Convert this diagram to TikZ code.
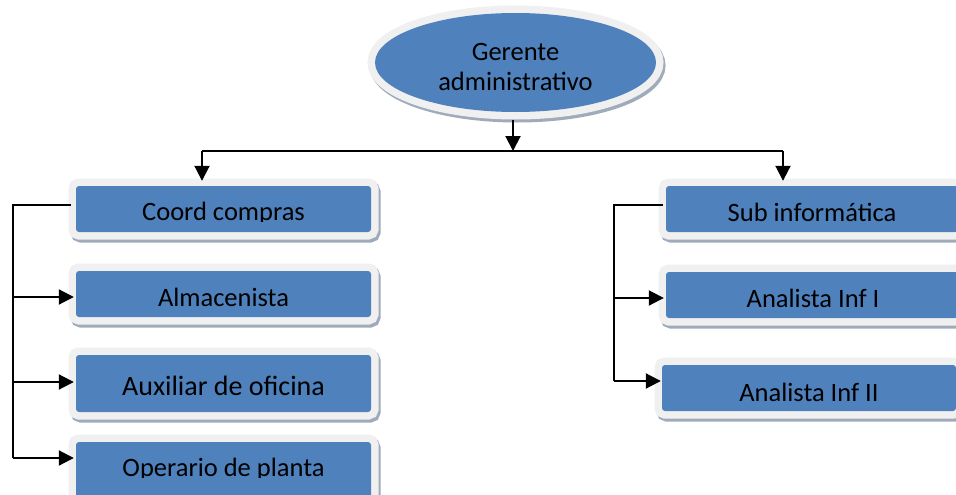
\documentclass[tikz,border=0pt]{standalone}
\usepackage{fontspec}
\setmainfont{Carlito}
\usetikzlibrary{arrows.meta,shapes.geometric}
\definecolor{boxblue}{HTML}{4F81BD}
\definecolor{framec}{HTML}{F0F0F0}
\definecolor{shadc}{HTML}{9FABBA}
\begin{document}
\begin{tikzpicture}[x=1pt,y=-1pt,
  frm/.style={preaction={draw=shadc,line width=15pt,transform canvas={shift={(2pt,-3pt)}}},
              preaction={draw=framec,line width=15pt}},
  bx/.style={frm,fill=boxblue,rounded corners=3pt,inner sep=0pt,draw=none},
  lbl/.style={font=\fontsize{26.5}{30}\selectfont,anchor=base,inner sep=0pt,text=black},
  lin/.style={line width=1.8pt},
  arr/.style={line width=2pt,-{Triangle[width=15pt,length=15pt]}},
]
\useasboundingbox (0,0) rectangle (956,495);
\clip (0,0) rectangle (956,495);
\fill[white] (0,0) rectangle (956,495);

% top ellipse
\node[ellipse,frm,fill=boxblue,draw=none,inner sep=0pt,minimum width=281,minimum height=99] (ger) at (515.5,62.5) {};
\node[lbl] (tger1) at (515.5,60) {Gerente};
\begin{scope}
  \clip (380,65) rectangle (650,91.3);
  \node[lbl] (tger2) at (515.5,90.7) {administrativo};
\end{scope}

% left column
\node[bx,minimum width=295,minimum height=46] (coord) at (223.5,209) {};
\node[bx,minimum width=295,minimum height=46] (alm) at (223.5,294) {};
\node[bx,minimum width=295,minimum height=57] (aux) at (223.5,383.5) {};
\node[bx,minimum width=295,minimum height=60] (opr) at (223.5,472) {};

% right column
\node[bx,minimum width=292,minimum height=46] (sub) at (812,209) {};
\node[bx,minimum width=292,minimum height=46] (inf1) at (812,295) {};
\node[bx,minimum width=294,minimum height=46] (inf2) at (809,388) {};

% labels
\begin{scope}
  \clip (70,180) rectangle (380,221);
  \node[lbl] (tcoord) at (223.5,220) {Coord compras};
\end{scope}
\node[lbl] (talm) at (223.5,306.7) {Almacenista};
\node[lbl,font=\fontsize{28}{32}\selectfont] (taux) at (223.5,395) {Auxiliar de oficina};
\begin{scope}
  \clip (70,440) rectangle (380,477.3);
  \node[lbl] (topr) at (223.5,476.7) {Operario de planta};
\end{scope}
\node[lbl] (tsub) at (812,221.7) {Sub informática};
\begin{scope}
  \clip (660,270) rectangle (956,307.5);
  \node[lbl] (tinf1) at (813,307) {Analista Inf I};
\end{scope}
\begin{scope}
  \clip (660,360) rectangle (956,401.5);
  \node[lbl] (tinf2) at (809,401) {Analista Inf II};
\end{scope}

% top connectors
\coordinate (hub) at (513,151);
\coordinate (lft) at (202,151);
\coordinate (rgt) at (783,151);
\draw[arr] ([yshift=-8pt]hub |- ger.south) -- (hub);
\draw[lin] (lft) -- (rgt);
\draw[arr] (lft) -- ([yshift=5pt]lft |- coord.north);
\draw[arr] (rgt) -- ([yshift=5pt]rgt |- sub.north);

% left bus
\coordinate (lb) at (13,205);
\coordinate (la1) at (13,297);
\coordinate (la2) at (13,382);
\coordinate (la3) at (13,458);
\draw[lin] ([xshift=-5pt]coord.west |- lb) -- (lb) -- (la3);
\draw[arr] (la1) -- ([xshift=-2pt]la1 -| alm.west);
\draw[arr] (la2) -- ([xshift=-2pt]la2 -| aux.west);
\draw[arr] (la3) -- ([xshift=-2pt]la3 -| opr.west);

% right bus
\coordinate (rb) at (614,205);
\coordinate (ra1) at (614,298);
\coordinate (ra2) at (614,381);
\draw[lin] ([xshift=-3pt]sub.west |- rb) -- (rb) -- (ra2);
\draw[arr] (ra1) -- ([xshift=-2pt]ra1 -| inf1.west);
\draw[arr] (ra2) -- ([xshift=-1pt]ra2 -| inf2.west);
\end{tikzpicture}
\end{document}
